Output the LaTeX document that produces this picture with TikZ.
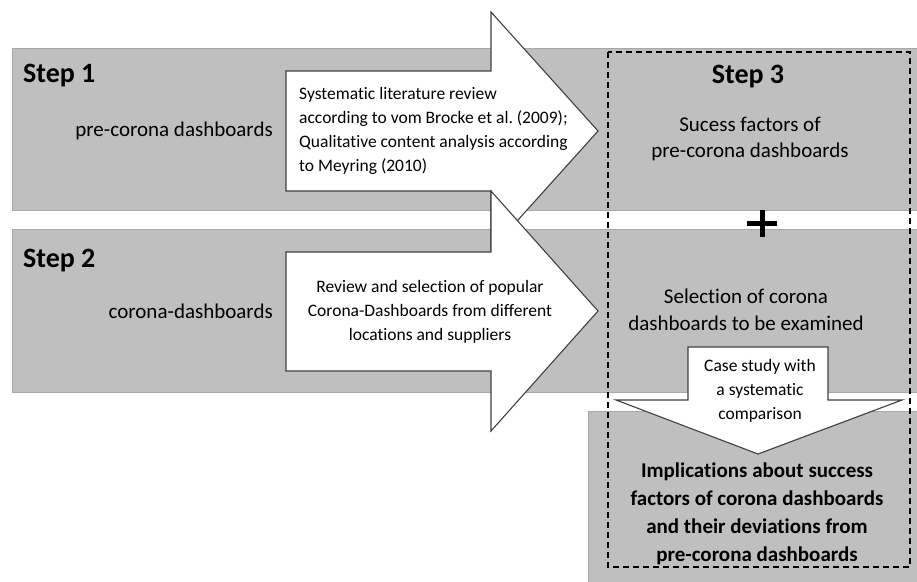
\documentclass[tikz,border=0pt]{standalone}
\usepackage{fontspec}
\setmainfont{Carlito}[Ligatures={NoCommon}]
\frenchspacing
\begin{document}
\begin{tikzpicture}[x=1pt,y=-1pt,
  band/.style={fill=bandgray,draw=bandedge,line width=1pt},
  arrowshape/.style={fill=white,draw=arrowedge,line width=1.1pt,line join=miter},
  midtext/.style={inner sep=0pt,font=\fontsize{21}{26.5}\selectfont,align=center},
  smalltext/.style={inner sep=0pt,font=\fontsize{17.5}{23.8}\selectfont},
  steptext/.style={inner sep=0pt,font=\bfseries\fontsize{28}{32}\selectfont},
  boldtext/.style={inner sep=0pt,font=\bfseries\fontsize{21}{28}\selectfont,align=center}]
\definecolor{bandgray}{HTML}{BFBFBF}
\definecolor{bandedge}{HTML}{A8A8A8}
\definecolor{arrowedge}{HTML}{404040}
\useasboundingbox (0,0) rectangle (917,581);
% bands
\path[band] (12,48) rectangle (925,210);
\path[band] (12,229) rectangle (925,392);
\path[band] (588,411) rectangle (925,590);
% arrows
\path[arrowshape] (286,71) -- (491,71) -- (491,12) -- (598,131) -- (491,250) -- (491,191) -- (286,191) -- cycle;
\path[arrowshape] (286,252) -- (491,252) -- (491,191) -- (598,311) -- (491,431) -- (491,371) -- (286,371) -- cycle;
\path[arrowshape] (688,347) -- (828,347) -- (828,400) -- (902,400) -- (758,454) -- (616,400) -- (688,400) -- cycle;
% plus
\draw[line width=5pt] (747,223) -- (777,223);
\draw[line width=5pt] (762,210) -- (762,237);
% dashed frame
\draw[line width=1.4pt,dash pattern=on 6pt off 4pt] (608,52) rectangle (910,567);
% texts
\node[steptext,anchor=base west] (step1) at (23,82) {Step 1};
\node[steptext,anchor=base west] (step2) at (23,267) {Step 2};
\node[midtext,anchor=east] (pre1) at (273,131) {pre-corona dashboards};
\node[midtext,anchor=east] (pre2) at (273,311) {corona-dashboards};
\node[smalltext,align=left,anchor=west] (a1text) at (299,131) {Systematic literature review\\according to vom Brocke et al. (2009);\\Qualitative content analysis according\\to Meyring (2010)};
\node[smalltext,align=center] (a2text) at (430,312) {Review and selection of popular\\Corona-Dashboards from different\\locations and suppliers};
\node[steptext] (step3) at (748,77) {Step 3};
\node[midtext] (s3a) at (750,139) {Sucess factors of\\pre-corona dashboards};
\node[midtext] (s3b) at (746,310) {Selection of corona\\dashboards to be examined};
\node[smalltext,align=center] (case) at (760,391) {Case study with\\a systematic\\comparison};
\node[boldtext] (impl) at (757,514) {Implications about success\\factors of corona dashboards\\and their deviations from\\pre-corona dashboards};
\end{tikzpicture}
\end{document}
